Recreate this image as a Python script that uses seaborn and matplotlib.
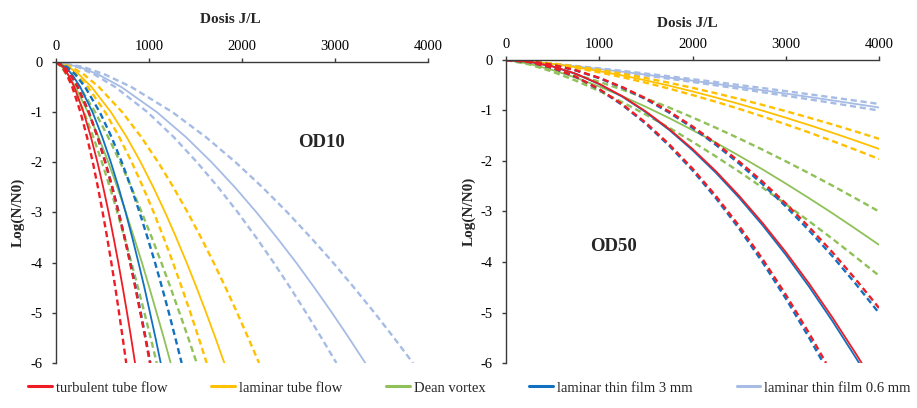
import matplotlib
matplotlib.use("Agg")
import matplotlib.pyplot as plt
from matplotlib.lines import Line2D
import pandas as pd
import seaborn as sns

sns.set_theme(style="ticks")
plt.rcParams["font.family"] = ["Liberation Serif", "DejaVu Serif"]
plt.rcParams["axes.unicode_minus"] = False

series = ["turbulent tube flow", "laminar tube flow", "Dean vortex",
          "laminar thin film 3 mm", "laminar thin film 0.6 mm"]
palette = {"turbulent tube flow": "#EE1C25", "laminar tube flow": "#FFC000",
           "Dean vortex": "#8FC158", "laminar thin film 3 mm": "#1170BF",
           "laminar thin film 0.6 mm": "#A6BCE5"}

x_ticks = [0, 1000, 2000, 3000, 4000]
y_ticks = [0, -1, -2, -3, -4, -5, -6]

# ---- OD10: dose (J/L) at which each curve reaches the log-reduction levels
od10_levels = [0, -0.1, -0.25, -0.5, -1, -1.5, -2, -2.5, -3, -3.5, -4, -4.5, -5, -5.5, -6]

od10_turb_low = [0, 68, 116, 175, 263, 334, 396, 451, 502, 550, 595, 638, 678, 717, 755]
od10_turb_mid = [0, 77, 131, 197, 296, 376, 446, 508, 566, 619, 670, 718, 764, 808, 850]
od10_turb_high = [0, 91, 156, 234, 352, 447, 529, 604, 672, 736, 796, 853, 907, 960, 1010]

od10_lam_low = [0, 125, 222, 343, 529, 681, 815, 937, 1051, 1157, 1258, 1353, 1446, 1534, 1620]
od10_lam_mid = [0, 140, 248, 383, 591, 761, 911, 1047, 1174, 1292, 1405, 1512, 1615, 1714, 1810]
od10_lam_high = [0, 169, 300, 462, 712, 918, 1099, 1263, 1416, 1559, 1695, 1824, 1948, 2067, 2183]

od10_dean_low = [0, 58, 112, 184, 301, 402, 494, 580, 660, 737, 811, 882, 951, 1018, 1083]
od10_dean_mid = [0, 66, 127, 209, 343, 458, 563, 660, 752, 839, 924, 1004, 1082, 1159, 1233]
od10_dean_high = [0, 81, 156, 257, 421, 562, 691, 810, 922, 1030, 1133, 1232, 1328, 1422, 1513]

od10_tf3_low = [0, 91, 157, 235, 354, 449, 532, 607, 675, 739, 800, 857, 912, 964, 1015]
od10_tf3_mid = [0, 101, 174, 261, 393, 498, 590, 673, 749, 820, 887, 951, 1011, 1070, 1126]
od10_tf3_high = [0, 122, 208, 313, 471, 598, 708, 808, 899, 984, 1065, 1141, 1214, 1283, 1351]

od10_tf06_low = [0, 233, 414, 638, 984, 1268, 1517, 1745, 1956, 2153, 2341, 2519, 2690, 2855, 3015]
od10_tf06_mid = [0, 257, 456, 704, 1085, 1399, 1674, 1925, 2157, 2375, 2583, 2779, 2968, 3150, 3326]
od10_tf06_high = [0, 297, 527, 812, 1252, 1614, 1932, 2221, 2489, 2740, 2980, 3206, 3425, 3635, 3838]

# ---- OD50: log reduction at each dose (J/L)
od50_dose = [0, 250, 500, 750, 1000, 1250, 1500, 1750, 2000, 2250, 2500,
             2750, 3000, 3250, 3500, 3750, 4000]

od50_turb_mid_dose = [0, 250, 500, 750, 1000, 1250, 1500, 1750, 2000, 2250, 2500,
                      2750, 3000, 3250, 3500, 3750, 3814]
od50_turb_mid = [0, -0.034, -0.126, -0.272, -0.472, -0.72, -1.02, -1.366, -1.761, -2.201,
                 -2.690, -3.224, -3.803, -4.427, -5.098, -5.810, -6.0]
od50_turb_low_dose = [0, 250, 500, 750, 1000, 1250, 1500, 1750, 2000, 2250, 2500,
                      2750, 3000, 3250, 3432]
od50_turb_low = [0, -0.041, -0.154, -0.333, -0.576, -0.880, -1.244, -1.670, -2.150, -2.690,
                 -3.286, -3.938, -4.646, -5.410, -6.0]
od50_turb_high = [0, -0.025, -0.095, -0.204, -0.353, -0.539, -0.761, -1.020, -1.316, -1.646,
                  -2.010, -2.408, -2.841, -3.308, -3.806, -4.343, -4.91]

od50_tf3_mid_dose = [0, 250, 500, 750, 1000, 1250, 1500, 1750, 2000, 2250, 2500,
                     2750, 3000, 3250, 3500, 3750, 3786]
od50_tf3_mid = [0, -0.034, -0.128, -0.276, -0.479, -0.730, -1.034, -1.385, -1.786, -2.232,
                -2.728, -3.269, -3.856, -4.489, -5.169, -5.891, -6.0]
od50_tf3_low_dose = [0, 250, 500, 750, 1000, 1250, 1500, 1750, 2000, 2250, 2500,
                     2750, 3000, 3250, 3403]
od50_tf3_low = [0, -0.042, -0.157, -0.339, -0.585, -0.894, -1.264, -1.697, -2.185, -2.734,
                -3.340, -4.002, -4.722, -5.498, -6.0]
od50_tf3_high = [0, -0.026, -0.096, -0.208, -0.360, -0.550, -0.777, -1.041, -1.343, -1.679,
                 -2.051, -2.457, -2.899, -3.375, -3.884, -4.432, -5.01]

od50_lam_mid = [0, -0.027, -0.078, -0.143, -0.22, -0.307, -0.404, -0.509, -0.622, -0.743,
                -0.870, -1.003, -1.143, -1.288, -1.440, -1.598, -1.76]
od50_lam_high = [0, -0.024, -0.069, -0.127, -0.195, -0.273, -0.358, -0.451, -0.551, -0.658,
                 -0.771, -0.889, -1.013, -1.142, -1.276, -1.416, -1.56]
od50_lam_low = [0, -0.031, -0.087, -0.159, -0.245, -0.342, -0.450, -0.567, -0.693, -0.827,
                -0.968, -1.117, -1.273, -1.435, -1.603, -1.779, -1.96]

od50_dean_mid = [0, -0.075, -0.199, -0.351, -0.526, -0.718, -0.927, -1.150, -1.388, -1.636,
                 -1.896, -2.165, -2.446, -2.736, -3.034, -3.344, -3.66]
od50_dean_high = [0, -0.062, -0.163, -0.288, -0.431, -0.589, -0.760, -0.942, -1.137, -1.341,
                  -1.554, -1.775, -2.005, -2.243, -2.487, -2.741, -3.0]
od50_dean_low = [0, -0.088, -0.232, -0.410, -0.614, -0.838, -1.082, -1.341, -1.619, -1.909,
                 -2.211, -2.526, -2.854, -3.192, -3.540, -3.902, -4.27]

od50_tf06_mid = [0, -0.034, -0.078, -0.126, -0.178, -0.233, -0.290, -0.349, -0.409, -0.472,
                 -0.535, -0.599, -0.665, -0.732, -0.800, -0.870, -0.94]
od50_tf06_high = [0, -0.031, -0.072, -0.117, -0.165, -0.215, -0.268, -0.323, -0.379, -0.436,
                  -0.495, -0.555, -0.616, -0.678, -0.741, -0.805, -0.87]
od50_tf06_low = [0, -0.036, -0.083, -0.134, -0.190, -0.248, -0.308, -0.371, -0.435, -0.502,
                 -0.569, -0.638, -0.708, -0.779, -0.851, -0.926, -1.0]


def frame(curves):
    parts = []
    for (name, bound), (xs, ys) in curves.items():
        parts.append(pd.DataFrame({"dose": xs, "logr": ys, "series": name, "bound": bound}))
    return pd.concat(parts, ignore_index=True)


od10 = frame({
    (series[4], "low"): (od10_tf06_low, od10_levels),
    (series[4], "mid"): (od10_tf06_mid, od10_levels),
    (series[4], "high"): (od10_tf06_high, od10_levels),
    (series[1], "low"): (od10_lam_low, od10_levels),
    (series[1], "mid"): (od10_lam_mid, od10_levels),
    (series[1], "high"): (od10_lam_high, od10_levels),
    (series[2], "low"): (od10_dean_low, od10_levels),
    (series[2], "mid"): (od10_dean_mid, od10_levels),
    (series[2], "high"): (od10_dean_high, od10_levels),
    (series[3], "low"): (od10_tf3_low, od10_levels),
    (series[3], "mid"): (od10_tf3_mid, od10_levels),
    (series[3], "high"): (od10_tf3_high, od10_levels),
    (series[0], "low"): (od10_turb_low, od10_levels),
    (series[0], "mid"): (od10_turb_mid, od10_levels),
    (series[0], "high"): (od10_turb_high, od10_levels),
})

od50 = frame({
    (series[4], "low"): (od50_dose, od50_tf06_low),
    (series[4], "mid"): (od50_dose, od50_tf06_mid),
    (series[4], "high"): (od50_dose, od50_tf06_high),
    (series[1], "low"): (od50_dose, od50_lam_low),
    (series[1], "mid"): (od50_dose, od50_lam_mid),
    (series[1], "high"): (od50_dose, od50_lam_high),
    (series[2], "low"): (od50_dose, od50_dean_low),
    (series[2], "mid"): (od50_dose, od50_dean_mid),
    (series[2], "high"): (od50_dose, od50_dean_high),
    (series[3], "low"): (od50_tf3_low_dose, od50_tf3_low),
    (series[3], "mid"): (od50_tf3_mid_dose, od50_tf3_mid),
    (series[3], "high"): (od50_dose, od50_tf3_high),
    (series[0], "low"): (od50_turb_low_dose, od50_turb_low),
    (series[0], "mid"): (od50_turb_mid_dose, od50_turb_mid),
    (series[0], "high"): (od50_dose, od50_turb_high),
})

dash = (2.6, 1.6)
dashes = {"mid": "", "low": dash, "high": dash}
widths = {"mid": 1.3, "low": 1.7, "high": 1.7}
hue_order = [series[4], series[1], series[2], series[3], series[0]]

fig = plt.figure(figsize=(9.17, 4.08), dpi=100)
ax1 = fig.add_axes([56 / 917, 1 - 363 / 408, 372 / 917, 301 / 408])
ax2 = fig.add_axes([506 / 917, 1 - 363 / 408, 373 / 917, 303 / 408])

for ax, data in ((ax1, od10), (ax2, od50)):
    sns.lineplot(data=data, x="dose", y="logr", hue="series", style="bound", size="bound",
                 hue_order=hue_order, palette=palette, dashes=dashes, sizes=widths,
                 estimator=None, sort=True, legend=False, ax=ax)

spine_col = "#3A3A3A"
for ax in (ax1, ax2):
    ax.set_xlim(0, 4000)
    ax.set_ylim(-6, 0)
    ax.xaxis.tick_top()
    ax.xaxis.set_label_position("top")
    for side in ("right", "bottom"):
        ax.spines[side].set_visible(False)
    for side in ("top", "left"):
        ax.spines[side].set_color(spine_col)
        ax.spines[side].set_linewidth(1.0)
    ax.set_xticks(x_ticks)
    ax.set_xticklabels([str(v) for v in x_ticks])
    ax.set_yticks(y_ticks)
    ax.set_yticklabels([str(v) for v in y_ticks])
    ax.tick_params(axis="x", direction="out", length=3, width=1.0, color=spine_col,
                   labelsize=10.5, pad=3.5, labelcolor="black")
    ax.tick_params(axis="y", direction="out", length=3, width=1.0, color=spine_col,
                   labelsize=10.5, pad=6.5, labelcolor="black")
    ax.set_xlabel("Dosis J/L", fontweight="bold", fontsize=11)
    ax.set_ylabel("Log(N/N0)", fontweight="bold", fontsize=11)

ax1.xaxis.set_label_coords(0.468, 1.128)
ax2.xaxis.set_label_coords(0.485, 1.11)
ax1.yaxis.set_label_coords(-0.083, 0.5)
ax2.yaxis.set_label_coords(-0.080, 0.5)

ax1.text(2860, -1.61, "OD10", ha="center", va="center", fontweight="bold", fontsize=13.5)
ax2.text(1158, -3.70, "OD50", ha="center", va="center", fontweight="bold", fontsize=13.5)

handles = [Line2D([0], [0], color=palette[s], lw=2.2) for s in series]
fig.legend(handles, series, loc="center", bbox_to_anchor=(0.512, 1 - 388 / 408), ncol=5,
           frameon=False, fontsize=10.5, handlelength=1.6, handletextpad=0.3,
           columnspacing=3.0, borderaxespad=0, borderpad=0)

fig.savefig("out.png", dpi=100, facecolor="white")
